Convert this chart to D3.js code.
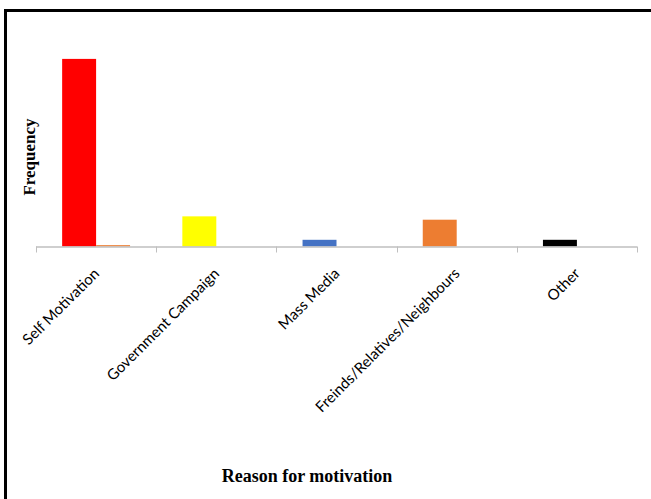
<!DOCTYPE html>
<html>
<head>
<meta charset="utf-8">
<script src="https://cdn.jsdelivr.net/npm/d3@7"></script>
<style>
  html, body { margin: 0; padding: 0; background: #ffffff; }
  svg { display: block; }
</style>
</head>
<body>
<svg id="chart" width="651" height="499"></svg>
<script>
// ---- data ----
const categories = ["Self Motivation", "Government Campaign", "Mass Media", "Freinds/Relatives/Neighbours", "Other"];
const series1Values = [280, 45, 10, 40, 10];
const series2Values = [2, 0, 0, 0, 0];
const series1Colors = ["#FF0000", "#FFFF00", "#4472C4", "#ED7D31", "#000000"];
const series2Color = "#ED7D31";
const yAxisTitle = "Frequency";
const xAxisTitle = "Reason for motivation";

// ---- layout ----
const W = 651, H = 499;
const svg = d3.select("#chart");

// outer frame
svg.append("rect")
  .attr("x", 5.5).attr("y", 10.5)
  .attr("width", W + 20).attr("height", H + 20)
  .attr("fill", "none").attr("stroke", "#000").attr("stroke-width", 3);

const x = d3.scaleBand().domain(categories).range([36, 637]).paddingInner(0).paddingOuter(0);
const xSub = d3.scaleBand().domain(["s1", "s2"]).range([0, x.bandwidth()]).paddingInner(0).paddingOuter(0.77);
const y = d3.scaleLinear().domain([0, 300]).range([246.5, 45.5]);

const rows = categories.map((c, i) => ({ cat: c, s1: series1Values[i], s2: series2Values[i], c1: series1Colors[i] }));

const g = svg.append("g");
// series 1
g.selectAll("rect.s1").data(rows).enter().append("rect")
  .attr("class", "s1")
  .attr("x", d => x(d.cat) + xSub("s1"))
  .attr("y", d => y(d.s1))
  .attr("width", xSub.bandwidth())
  .attr("height", d => y(0) - y(d.s1))
  .attr("fill", d => d.c1);
// series 2
g.selectAll("rect.s2").data(rows).enter().append("rect")
  .attr("class", "s2")
  .attr("x", d => x(d.cat) + xSub("s2"))
  .attr("y", d => y(d.s2))
  .attr("width", xSub.bandwidth())
  .attr("height", d => y(0) - y(d.s2))
  .attr("fill", series2Color);

// x axis line and ticks
const axisG = svg.append("g");
axisG.append("line")
  .attr("x1", x.range()[0]).attr("x2", x.range()[1])
  .attr("y1", y(0) + 0.5).attr("y2", y(0) + 0.5)
  .attr("stroke", "#BFBFBF").attr("stroke-width", 1.5);
const tickPos = categories.map(c => x(c)).concat([x.range()[1]]);
axisG.selectAll("line.tick").data(tickPos).enter().append("line")
  .attr("class", "tick")
  .attr("x1", d => Math.round(d) + 0.5).attr("x2", d => Math.round(d) + 0.5)
  .attr("y1", y(0)).attr("y2", y(0) + 6)
  .attr("stroke", "#BFBFBF").attr("stroke-width", 1);

// category labels
axisG.selectAll("text.cat").data(categories).enter().append("text")
  .attr("class", "cat")
  .attr("transform", d => `translate(${x(d) + x.bandwidth() / 2 + 4},${y(0) + 28}) rotate(-45)`)
  .attr("text-anchor", "end")
  .attr("font-family", "Lato, 'Open Sans', sans-serif")
  .attr("font-size", 15)
  .attr("fill", "#000")
  .text(d => d);

// axis titles
svg.append("text")
  .attr("transform", "translate(35,157) rotate(-90)")
  .attr("text-anchor", "middle")
  .attr("font-family", "'Liberation Serif', 'Times New Roman', serif")
  .attr("font-weight", "bold")
  .attr("font-size", 17)
  .attr("fill", "#000")
  .text(yAxisTitle);

svg.append("text")
  .attr("x", 307).attr("y", 482)
  .attr("text-anchor", "middle")
  .attr("font-family", "'Liberation Serif', 'Times New Roman', serif")
  .attr("font-weight", "bold")
  .attr("font-size", 18)
  .attr("fill", "#000")
  .text(xAxisTitle);
</script>
</body>
</html>
